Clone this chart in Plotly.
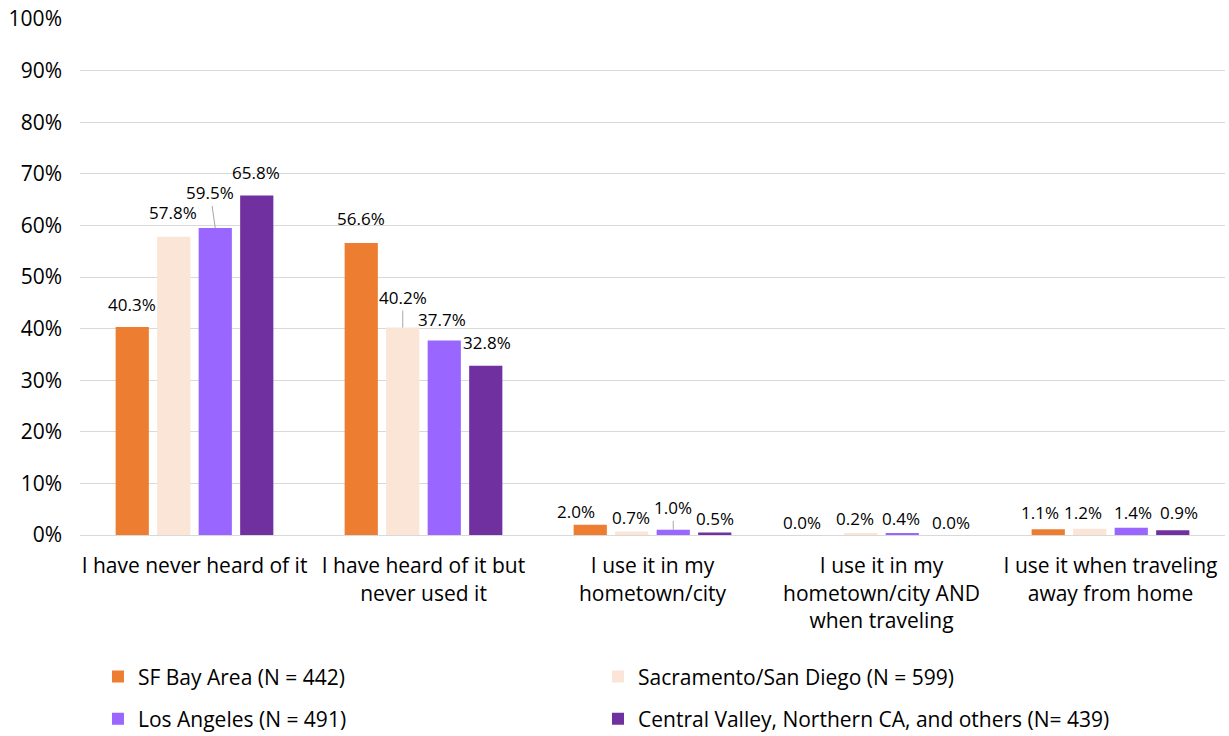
import plotly.graph_objects as go

# survey answers (x-axis categories)
categories = [
    "I have never heard of it",
    "I have heard of it but<br>never used it",
    "I use it in my<br>hometown/city",
    "I use it in my<br>hometown/city AND<br>when traveling",
    "I use it when traveling<br>away from home",
]

series_names = [
    "SF Bay Area (N = 442)",
    "Sacramento/San Diego (N = 599)",
    "Los Angeles (N = 491)",
    "Central Valley, Northern CA, and others (N= 439)",
]

sf_bay = [40.3, 56.6, 2.0, 0.0, 1.1]
sac_sd = [57.8, 40.2, 0.7, 0.2, 1.2]
los_angeles = [59.5, 37.7, 1.0, 0.4, 1.4]
central_valley = [65.8, 32.8, 0.5, 0.0, 0.9]

all_values = [sf_bay, sac_sd, los_angeles, central_valley]

colors = ["#ED7D31", "#FBE5D6", "#9966FF", "#7030A0"]

# pixel offset of each data label centre from the top of its bar, [series][category]
label_shift = [
    [(0, 23), (0, 24), (-14, 13), (-17, 13), (-8, 17)],
    [(-1, 24), (0, 30), (-1, 14), (-6, 15), (-7, 16)],
    [(-5, 35), (-2, 21), (0, 22), (-1, 14), (2, 15)],
    [(-1, 23), (1, 23), (0, 14), (7, 13), (6, 18)],
]
# labels joined to their bar by a leader line: (series, category)
leader = [(2, 0), (1, 1), (2, 2)]

BARGAP = 0.275
GROUPGAP = 0.2
LABEL_FONT = dict(family="Open Sans", size=17, color="#000000")

# one legend per entry, laid out as a 2x2 grid: (legend id, x, y)
legend_spots = [("legend", 0.0157, 0.0802), ("legend2", 0.4524, 0.0802),
                ("legend3", 0.0157, 0.0231), ("legend4", 0.4524, 0.0231)]

fig = go.Figure()
for i, (name, vals) in enumerate(zip(series_names, all_values)):
    fig.add_trace(go.Bar(
        x=list(range(len(categories))), y=vals, name=name,
        marker_color=colors[i], marker_line_width=0,
        legend=legend_spots[i][0],
    ))

# data labels, x from the group centre plus the bar slot
slot = (1 - BARGAP) / 4
for s, vals in enumerate(all_values):
    for c, v in enumerate(vals):
        dx, dy = label_shift[s][c]
        xpos = c + (s - 1.5) * slot
        if (s, c) in leader:
            fig.add_annotation(
                x=xpos, y=v, xref="x", yref="y", text=f"{v:.1f}%",
                showarrow=True, arrowhead=0, arrowwidth=1, arrowcolor="#A6A6A6",
                ax=dx, ay=-dy, standoff=0, font=LABEL_FONT,
            )
        else:
            fig.add_annotation(
                x=xpos, y=v, xref="x", yref="y", text=f"{v:.1f}%",
                showarrow=False, xshift=dx, yshift=dy, yanchor="middle",
                font=LABEL_FONT,
            )

fig.update_layout(
    width=1229, height=736,
    margin=dict(l=80, r=4, t=19, b=201),
    plot_bgcolor="white", paper_bgcolor="white",
    barmode="group", bargap=BARGAP, bargroupgap=GROUPGAP,
    font=dict(family="Open Sans", size=21, color="#000000"),
    yaxis=dict(range=[0, 100], dtick=10, ticksuffix="%", automargin=False,
               gridcolor="#D9D9D9", gridwidth=1, zeroline=False,
               showline=False, ticks="", ticklabelstandoff=17),
    xaxis=dict(range=[-0.5, 4.5], tickvals=list(range(len(categories))),
               ticktext=categories, automargin=False,
               showline=True, linecolor="#D9D9D9", linewidth=1, ticks="",
               showgrid=False, ticklabelstandoff=12),
    showlegend=True,
)
for lid, lx, ly in legend_spots:
    fig.update_layout({lid: dict(x=lx, xanchor="left", yref="container", y=ly,
                                 yanchor="middle", font=dict(size=21),
                                 bgcolor="rgba(0,0,0,0)")})

# drop the browser's default body margin so the figure sits at the page corner
fig.write_html("out.html", config={"displayModeBar": False},
               post_script="document.body.style.margin='0';")
